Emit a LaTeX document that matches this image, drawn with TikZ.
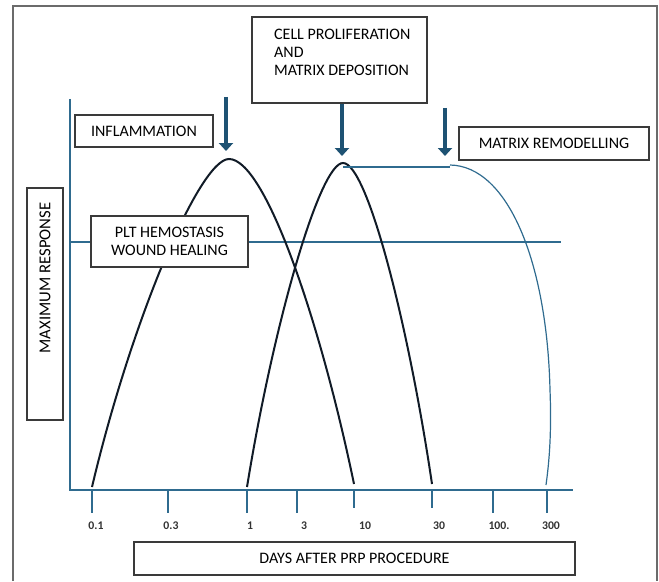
\documentclass[tikz,border=0pt]{standalone}
\usepackage{fontspec}
\setmainfont{Carlito}
\usetikzlibrary{arrows.meta,positioning,calc}
\definecolor{cAxis}{HTML}{2F6B8F}
\definecolor{cArrow}{HTML}{1E5273}
\definecolor{cCurve}{HTML}{111B27}
\definecolor{cBox}{HTML}{3A3A3A}
\definecolor{cFrame}{HTML}{6B6B6B}
\def\pxl{0.75pt}
\tikzset{
  lbox/.style={draw=cBox, line width=0.8pt, fill=white, inner sep=0pt, align=center,
    font=\fontsize{12}{13.5}\selectfont},
  ticklab/.style={font=\fontsize{8.8}{9}\selectfont\bfseries, text=black!80},
  axisline/.style={draw=cAxis, line width=0.9pt},
  phase/.style={draw=cCurve, line width=1.5pt},
  remodel/.style={draw=cAxis, line width=0.9pt},
  pointer/.style={draw=cArrow, line width=3.4pt,
    -{Triangle[width=10.5pt,length=6pt]}},
  frame/.style={draw=cFrame, line width=1.5pt},
}
\begin{document}
\begin{tikzpicture}[x=0.75pt, y=-0.75pt]
    \useasboundingbox (0,0) rectangle (659,581);
    % --- outer frame ---
    \draw[frame] (13,581) -- (13,6) -- (657,6) -- (657,581);
    % --- axes ---
    \coordinate (o) at (70,490);
    \draw[axisline] (70,99) -- (o) -- (573,490);
    \draw[axisline] (70,242) -- (561,242);
    % ticks and values
    \draw[axisline] (92,490) -- (92,513);
    \draw[axisline] (168,490) -- (168,513);
    \draw[axisline] (247,490) -- (247,513);
    \draw[axisline] (297,490) -- (297,513);
    \draw[axisline] (354,490) -- (354,508);
    \draw[axisline] (432,490) -- (432,508);
    \draw[axisline] (493,490) -- (493,513);
    \draw[axisline] (547,490) -- (547,513);
    \node[ticklab] (v1) at (96,526)  {0.1};
    \node[ticklab] (v2) at (171,526) {0.3};
    \node[ticklab] (v3) at (250,526) {1};
    \node[ticklab] (v4) at (304,526) {3};
    \node[ticklab] (v5) at (365,526) {10};
    \node[ticklab] (v6) at (439,526) {30};
    \node[ticklab] (v7) at (499,526) {100.};
    \node[ticklab] (v8) at (551,526) {300};
    % --- phase curves ---
    \coordinate (pkA) at (229,159);
    \coordinate (pkB) at (343,163);
    \coordinate (pkC) at (450,165);
    \draw[phase] (92,487) .. controls (132,318) and (200,159) .. (pkA)
      .. controls (265,159) and (320,320) .. (354,484);
    \draw[phase] (247,487) .. controls (274,321) and (320,163) .. (pkB)
      .. controls (367,163) and (408,322) .. (432,484);
    \draw[remodel] (343,167) -- (450,167);
    \draw[remodel] (pkC) .. controls (508,166) and (547,262) .. (550,390)
      .. controls (552,440) and (548,470) .. (546,485);
    % --- labels ---
    \node[lbox, minimum width=138*\pxl, minimum height=32*\pxl] (infl) at (144,131)
      {INFLAMMATION};
    \node[lbox, minimum width=175*\pxl, minimum height=86*\pxl,
      label={[anchor=north west, align=left, font=\fontsize{12}{13.5}\selectfont,
        xshift=18*\pxl, yshift=-8*\pxl]north west:CELL PROLIFERATION\\AND\\MATRIX DEPOSITION}]
      (cell) at (339.5,60) {};
    \node[lbox, minimum width=190*\pxl, minimum height=33*\pxl] (remod) at (554,143.5)
      {MATRIX REMODELLING};
    \node[lbox, minimum width=157*\pxl, minimum height=51*\pxl] (plt) at (169.5,241.5)
      {PLT HEMOSTASIS\\WOUND HEALING};
    \node[lbox, minimum width=36*\pxl, minimum height=232*\pxl] (ylab) at (45,304) {};
    \node[rotate=90, anchor=east, font=\fontsize{12.5}{13.5}\selectfont]
      (ytext) at (45,198) {MAXIMUM RESPONSE};
    \node[lbox, minimum width=441*\pxl, minimum height=33*\pxl] (xlab) at (354.5,558.5)
      {DAYS AFTER PRP PROCEDURE};
    % --- pointers ---
    \coordinate (tipA) at (226,151);
    \coordinate (tipB) at (342,156);
    \coordinate (tipC) at (445,156);
    \coordinate (topA) at (226,97);
    \coordinate (topC) at (445,108);
    \draw[pointer] (topA) -- (tipA);
    \draw[pointer] (cell.south -| tipB) -- (tipB);
    \draw[pointer] (topC) -- (tipC);
\end{tikzpicture}
\end{document}
